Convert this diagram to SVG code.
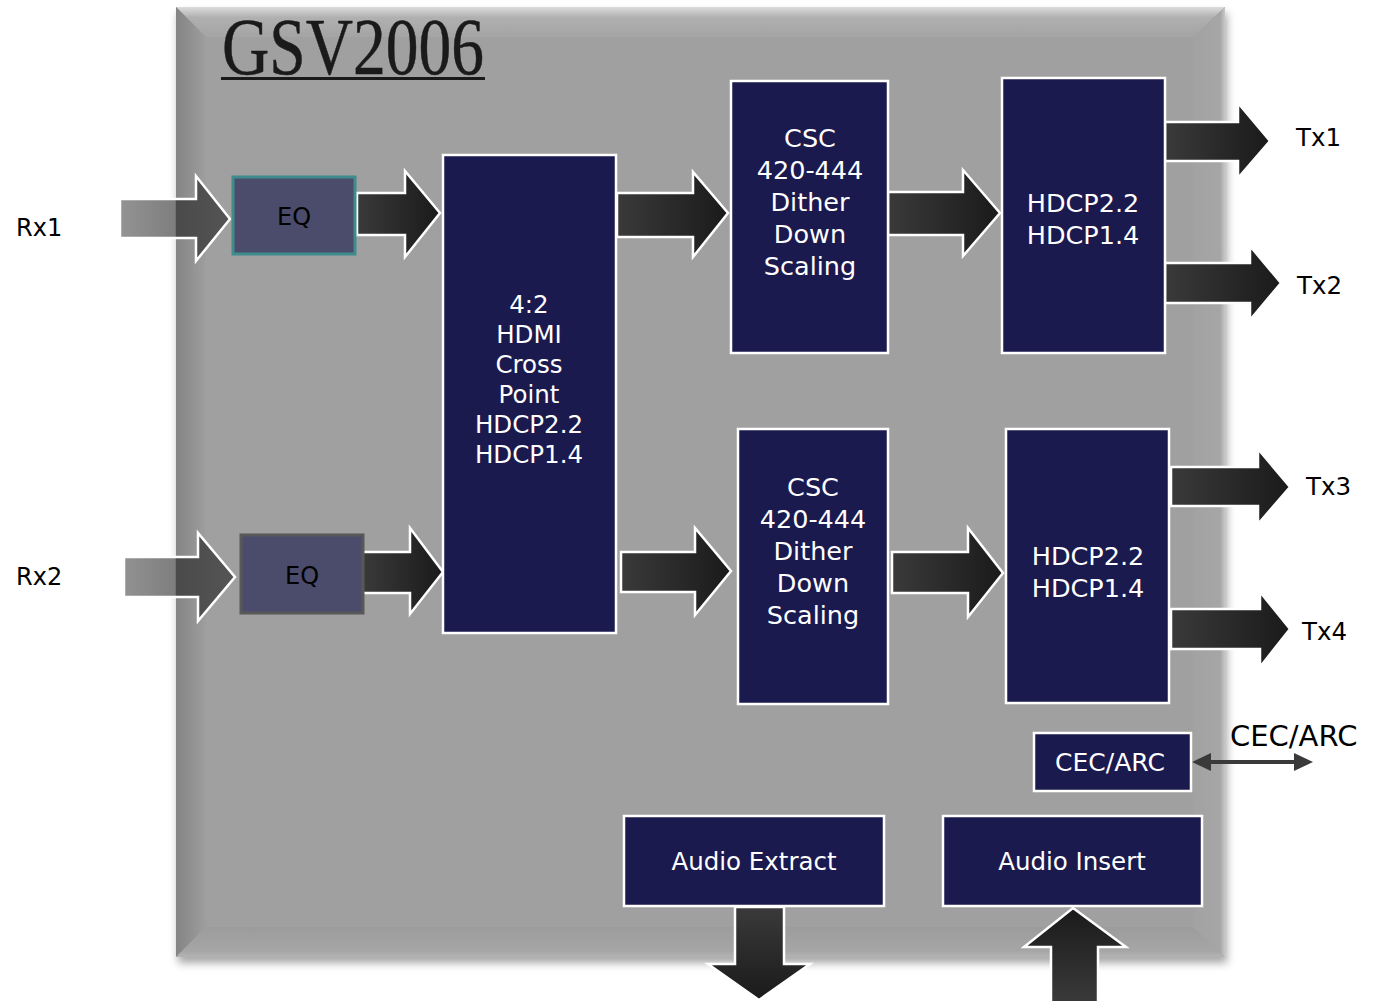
<svg xmlns="http://www.w3.org/2000/svg" width="1386" height="1001" viewBox="0 0 1386 1001">
<defs>
<style>
.blk{fill:#1b1a4f;stroke:#ffffff;stroke-width:2.5}
.eq{fill:#4b4c6b;stroke-width:3}
.wt{font-family:"DejaVu Sans","Verdana",sans-serif;fill:#ffffff;text-anchor:middle}
.bt{font-family:"DejaVu Sans","Verdana",sans-serif;fill:#000000}
.arr{stroke:#ffffff;stroke-width:2.5;stroke-linejoin:miter}
</style>
<linearGradient id="gH" x1="0" y1="0" x2="1" y2="0"><stop offset="0" stop-color="#3a3a3a"/><stop offset="1" stop-color="#1a1a1a"/></linearGradient>
<linearGradient id="gD" x1="0" y1="0" x2="0" y2="1"><stop offset="0" stop-color="#3a3a3a"/><stop offset="1" stop-color="#1a1a1a"/></linearGradient>
<linearGradient id="gU" x1="0" y1="0" x2="0" y2="1"><stop offset="0" stop-color="#1a1a1a"/><stop offset="1" stop-color="#3a3a3a"/></linearGradient>
<linearGradient id="gIn" gradientUnits="userSpaceOnUse" x1="120" y1="0" x2="235" y2="0"><stop offset="0" stop-color="#939393"/><stop offset="0.48" stop-color="#7e7e7e"/><stop offset="0.49" stop-color="#4a4a4a"/><stop offset="1" stop-color="#555555"/></linearGradient>
<linearGradient id="gTop" x1="0" y1="0" x2="0" y2="1"><stop offset="0" stop-color="#dcdcdc"/><stop offset="0.35" stop-color="#b0b0b0"/><stop offset="1" stop-color="#a4a4a4"/></linearGradient>
<linearGradient id="gLeft" x1="0" y1="0" x2="1" y2="0"><stop offset="0" stop-color="#848484"/><stop offset="1" stop-color="#9e9e9e"/></linearGradient>
<linearGradient id="gBot" x1="0" y1="0" x2="0" y2="1"><stop offset="0" stop-color="#9c9c9c"/><stop offset="0.8" stop-color="#a6a6a6"/><stop offset="1" stop-color="#b4b4b4"/></linearGradient>
<linearGradient id="gRight" x1="0" y1="0" x2="1" y2="0"><stop offset="0" stop-color="#a2a2a2"/><stop offset="0.85" stop-color="#a6a6a6"/><stop offset="1" stop-color="#c8c8c8"/></linearGradient>
<filter id="sh" x="-5%" y="-5%" width="110%" height="110%"><feDropShadow dx="2" dy="6" stdDeviation="4" flood-color="#000" flood-opacity="0.35"/></filter>
</defs>
<rect width="1386" height="1001" fill="#ffffff"/>
<g id="chip">
<rect x="176" y="7" width="1049" height="950" fill="#a0a0a0" filter="url(#sh)"/>
<polygon points="176,7 1225,7 1193,37 206,37" fill="url(#gTop)"/>
<polygon points="176,7 206,37 206,927 176,957" fill="url(#gLeft)"/>
<polygon points="176,957 206,927 1193,927 1225,957" fill="url(#gBot)"/>
<polygon points="1225,7 1193,37 1193,927 1225,957" fill="url(#gRight)"/>
<text x="222" y="74" font-family="Liberation Serif,serif" font-size="80" fill="#1a1a1a" stroke="#1a1a1a" stroke-width="0.5" textLength="262" lengthAdjust="spacingAndGlyphs">GSV2006</text>
<rect x="221" y="77" width="264" height="3" fill="#1a1a1a"/>
</g>
<g id="connectors">
<polygon class="arr" fill="url(#gIn)" points="120,199 196,199 196,176 230,219 196,261 196,238 120,238"/>
<polygon class="arr" fill="url(#gIn)" points="124,557 198,557 198,533 235,577 198,621 198,597 124,597"/>
<polygon class="arr" fill="url(#gH)" points="357,193 405,193 405,171 440,213 405,257 405,235 357,235"/>
<polygon class="arr" fill="url(#gH)" points="362,552 410,552 410,528 443,572 410,614 410,593 362,593"/>
<polygon class="arr" fill="url(#gH)" points="617,193 693,193 693,172 728,213 693,257 693,237 617,237"/>
<polygon class="arr" fill="url(#gH)" points="888,192 963,192 963,170 1000,213 963,256 963,235 888,235"/>
<polygon class="arr" fill="url(#gH)" points="621,552 695,552 695,528 731,571 695,615 695,592 621,592"/>
<polygon class="arr" fill="url(#gH)" points="892,552 968,552 968,528 1003,573 968,617 968,593 892,593"/>
<polygon class="arr" fill="url(#gH)" points="1165,122 1238,122 1238,103 1270,141 1238,178 1238,161 1165,161"/>
<polygon class="arr" fill="url(#gH)" points="1165,263 1250,263 1250,246 1281,283 1250,320 1250,303 1165,303"/>
<polygon class="arr" fill="url(#gH)" points="1171,467 1258,467 1258,449 1290,487 1258,524 1258,506 1171,506"/>
<polygon class="arr" fill="url(#gH)" points="1171,609 1260,609 1260,592 1290,629 1260,667 1260,649 1171,649"/>
<polygon class="arr" fill="url(#gD)" points="735,907 784,907 784,964 810,964 759,1000 708,964 735,964"/>
<polygon class="arr" fill="url(#gU)" points="1073,908 1126,947 1098,947 1098,1004 1051,1004 1051,947 1024,947"/>
<line x1="1205" y1="762" x2="1300" y2="762" stroke="#3a3a3a" stroke-width="4"/>
<polygon points="1192,762 1211,753 1211,771" fill="#3a3a3a"/>
<polygon points="1313,762 1294,753 1294,771" fill="#3a3a3a"/>
</g>
<g id="eq1">
<rect class="eq" x="233" y="177" width="122" height="77" stroke="#3f8c8c"/>
<text class="bt" x="294" y="225" font-size="24" text-anchor="middle">EQ</text>
</g>
<g id="eq2">
<rect class="eq" x="241" y="535" width="122" height="78" stroke="#585858"/>
<text class="bt" x="302" y="584" font-size="24" text-anchor="middle">EQ</text>
</g>
<g id="crosspoint">
<rect class="blk" x="443" y="155" width="173" height="478"/>
<text class="wt" font-size="24.5"><tspan x="529" y="313">4:2</tspan><tspan x="529" y="343">HDMI</tspan><tspan x="529" y="373">Cross</tspan><tspan x="529" y="403">Point</tspan><tspan x="529" y="433">HDCP2.2</tspan><tspan x="529" y="463">HDCP1.4</tspan></text>
</g>
<g id="csc1">
<rect class="blk" x="731" y="81" width="157" height="272"/>
<text class="wt" font-size="25.5"><tspan x="810" y="147">CSC</tspan><tspan x="810" y="179">420-444</tspan><tspan x="810" y="211">Dither</tspan><tspan x="810" y="243">Down</tspan><tspan x="810" y="275">Scaling</tspan></text>
</g>
<g id="csc2">
<rect class="blk" x="738" y="429" width="150" height="275"/>
<text class="wt" font-size="25.5"><tspan x="813" y="496">CSC</tspan><tspan x="813" y="528">420-444</tspan><tspan x="813" y="560">Dither</tspan><tspan x="813" y="592">Down</tspan><tspan x="813" y="624">Scaling</tspan></text>
</g>
<g id="hdcp1">
<rect class="blk" x="1002" y="78" width="163" height="275"/>
<text class="wt" font-size="25.5"><tspan x="1083" y="212">HDCP2.2</tspan><tspan x="1083" y="244">HDCP1.4</tspan></text>
</g>
<g id="hdcp2">
<rect class="blk" x="1006" y="429" width="163" height="274"/>
<text class="wt" font-size="25.5"><tspan x="1088" y="565">HDCP2.2</tspan><tspan x="1088" y="597">HDCP1.4</tspan></text>
</g>
<g id="cecarc">
<rect class="blk" x="1034" y="733" width="157" height="58"/>
<text class="wt" x="1110" y="771" font-size="25">CEC/ARC</text>
</g>
<g id="audio-extract">
<rect class="blk" x="624" y="816" width="260" height="90"/>
<text class="wt" x="754" y="870" font-size="24.5">Audio Extract</text>
</g>
<g id="audio-insert">
<rect class="blk" x="943" y="816" width="259" height="90"/>
<text class="wt" x="1072" y="870" font-size="24.5">Audio Insert</text>
</g>
<g id="labels">
<text class="bt" x="16" y="236" font-size="24">Rx1</text>
<text class="bt" x="16" y="585" font-size="24">Rx2</text>
<text class="bt" x="1296" y="146" font-size="24.5">Tx1</text>
<text class="bt" x="1297" y="294" font-size="24.5">Tx2</text>
<text class="bt" x="1306" y="495" font-size="24.5">Tx3</text>
<text class="bt" x="1302" y="640" font-size="24.5">Tx4</text>
<text class="bt" x="1230" y="746" font-size="29">CEC/ARC</text>
</g>
</svg>
